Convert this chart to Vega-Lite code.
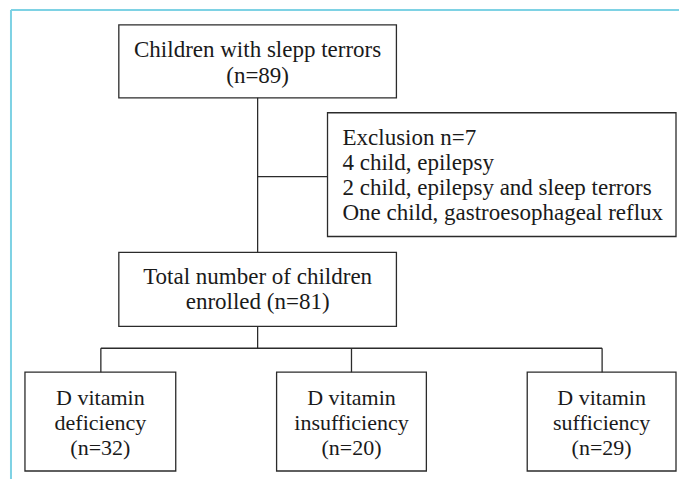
{
  "$schema": "https://vega.github.io/schema/vega-lite/v6.json",
  "width": 680,
  "height": 480,
  "autosize": {"type": "fit", "contains": "padding"},
  "padding": 0,
  "background": "white",
  "config": {"view": {"stroke": null}},
  "datasets": {
    "boxes": [
      {"id": "screened", "x": 119, "x2": 397, "y": 25, "y2": 98},
      {"id": "excluded", "x": 328, "x2": 677, "y": 113, "y2": 237},
      {"id": "enrolled", "x": 119, "x2": 397, "y": 253, "y2": 327},
      {"id": "deficiency", "x": 25, "x2": 176, "y": 373, "y2": 472},
      {"id": "insufficiency", "x": 277, "x2": 427, "y": 373, "y2": 472},
      {"id": "sufficiency", "x": 528, "x2": 677, "y": 373, "y2": 472}
    ],
    "links": [
      {"x": 258, "x2": 258, "y": 98, "y2": 253},
      {"x": 258, "x2": 328, "y": 177, "y2": 177},
      {"x": 258, "x2": 258, "y": 327, "y2": 349},
      {"x": 101, "x2": 603, "y": 349, "y2": 349},
      {"x": 101, "x2": 101, "y": 349, "y2": 373},
      {"x": 352, "x2": 352, "y": 349, "y2": 373},
      {"x": 603, "x2": 603, "y": 349, "y2": 373}
    ],
    "frame": [
      {"x": 11, "x2": 680, "y": 10, "y2": 10},
      {"x": 11, "x2": 11, "y": 10, "y2": 480}
    ],
    "labels": [
      {"group": "main", "x": 258, "y": 57, "label": "Children with slepp terrors"},
      {"group": "main", "x": 258, "y": 83, "label": "(n=89)"},
      {"group": "main", "x": 258, "y": 285, "label": "Total number of children"},
      {"group": "main", "x": 258, "y": 310, "label": "enrolled (n=81)"},
      {"group": "excl", "x": 343, "y": 145, "label": "Exclusion n=7"},
      {"group": "excl", "x": 343, "y": 170, "label": "4 child, epilepsy"},
      {"group": "excl", "x": 343, "y": 195, "label": "2 child, epilepsy and sleep terrors"},
      {"group": "excl", "x": 343, "y": 220, "label": "One child, gastroesophageal reflux"},
      {"group": "bottom", "x": 100.5, "y": 406, "label": "D vitamin"},
      {"group": "bottom", "x": 100.5, "y": 431, "label": "deficiency"},
      {"group": "bottom", "x": 100.5, "y": 456, "label": "(n=32)"},
      {"group": "bottom", "x": 352, "y": 406, "label": "D vitamin"},
      {"group": "bottom", "x": 352, "y": 431, "label": "insufficiency"},
      {"group": "bottom", "x": 352, "y": 456, "label": "(n=20)"},
      {"group": "bottom", "x": 602.5, "y": 406, "label": "D vitamin"},
      {"group": "bottom", "x": 602.5, "y": 431, "label": "sufficiency"},
      {"group": "bottom", "x": 602.5, "y": 456, "label": "(n=29)"}
    ]
  },
  "encoding": {
    "x": {"field": "x", "type": "quantitative", "scale": {"domain": [0, 680], "nice": false, "zero": false}, "axis": null},
    "y": {"field": "y", "type": "quantitative", "scale": {"domain": [0, 480], "nice": false, "zero": false, "reverse": true}, "axis": null}
  },
  "layer": [
    {
      "data": {"name": "frame"},
      "mark": {"type": "rule", "stroke": "#7ed2e4", "strokeWidth": 2},
      "encoding": {"x2": {"field": "x2"}, "y2": {"field": "y2"}}
    },
    {
      "data": {"name": "boxes"},
      "mark": {"type": "rect", "fill": "white", "stroke": "#2b2b2b", "strokeWidth": 1.3},
      "encoding": {"x2": {"field": "x2"}, "y2": {"field": "y2"}}
    },
    {
      "data": {"name": "links"},
      "mark": {"type": "rule", "stroke": "#2b2b2b", "strokeWidth": 1.3},
      "encoding": {"x2": {"field": "x2"}, "y2": {"field": "y2"}}
    },
    {
      "data": {"name": "labels"},
      "transform": [{"filter": "datum.group === 'main'"}],
      "mark": {"type": "text", "font": "Liberation Serif", "fontSize": 23, "align": "center", "baseline": "alphabetic", "color": "#1a1a1a"},
      "encoding": {"text": {"field": "label"}}
    },
    {
      "data": {"name": "labels"},
      "transform": [{"filter": "datum.group === 'excl'"}],
      "mark": {"type": "text", "font": "Liberation Serif", "fontSize": 23, "align": "left", "baseline": "alphabetic", "color": "#1a1a1a"},
      "encoding": {"text": {"field": "label"}}
    },
    {
      "data": {"name": "labels"},
      "transform": [{"filter": "datum.group === 'bottom'"}],
      "mark": {"type": "text", "font": "Liberation Serif", "fontSize": 22, "align": "center", "baseline": "alphabetic", "color": "#1a1a1a"},
      "encoding": {"text": {"field": "label"}}
    }
  ]
}
